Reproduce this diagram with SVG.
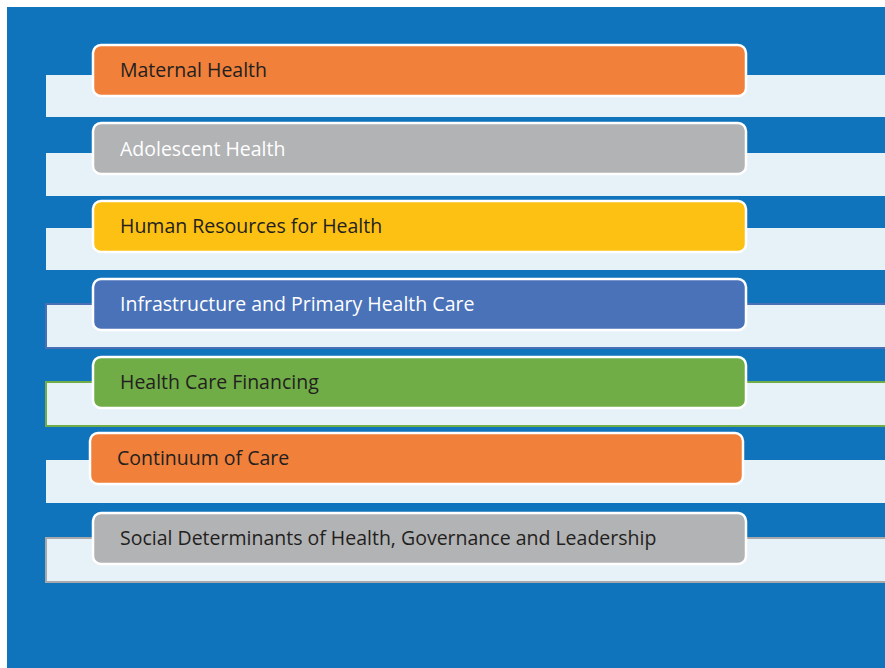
<svg xmlns="http://www.w3.org/2000/svg" width="885" height="668" viewBox="0 0 885 668">
<style>
.band{fill:#e7f1f8}
.bar{stroke:#ffffff;stroke-width:2.5}
.t{font-family:"Open Sans","Noto Sans",sans-serif;font-size:19.5px}
.dk{fill:#231f20}
.wt{fill:#ffffff}
</style>
<rect x="0" y="0" width="885" height="668" fill="#ffffff"/>
<rect x="7" y="7" width="878" height="661" fill="#0f74bc"/>
<g id="bands">
<rect class="band" x="46" y="75" width="839" height="42"/>
<rect class="band" x="46" y="153" width="839" height="43"/>
<rect class="band" x="46" y="228" width="839" height="42"/>
<rect class="band" x="46" y="304" width="840" height="44" stroke="#4a6fb5" stroke-width="2"/>
<rect class="band" x="46" y="382" width="840" height="44" stroke="#70ad47" stroke-width="2"/>
<rect class="band" x="46" y="460" width="839" height="43"/>
<rect class="band" x="46" y="538" width="840" height="44" stroke="#a7a9ac" stroke-width="2"/>
</g>
<g id="connectors"></g>
<g id="n1"><rect class="bar" x="93" y="45" width="653" height="51" rx="8" fill="#f0803a"/><text class="t dk" x="120" y="77">Maternal Health</text></g>
<g id="n2"><rect class="bar" x="93" y="123" width="653" height="51" rx="8" fill="#b2b3b5"/><text class="t wt" x="120" y="156">Adolescent Health</text></g>
<g id="n3"><rect class="bar" x="93" y="201" width="653" height="51" rx="8" fill="#fdc113"/><text class="t dk" x="120" y="233">Human Resources for Health</text></g>
<g id="n4"><rect class="bar" x="93" y="279" width="653" height="51" rx="8" fill="#4a72b8"/><text class="t wt" x="120" y="311">Infrastructure and Primary Health Care</text></g>
<g id="n5"><rect class="bar" x="93" y="357" width="653" height="51" rx="8" fill="#70ad47"/><text class="t dk" x="120" y="389">Health Care Financing</text></g>
<g id="n6"><rect class="bar" x="90" y="433" width="653" height="51" rx="8" fill="#f0803a"/><text class="t dk" x="117" y="465">Continuum of Care</text></g>
<g id="n7"><rect class="bar" x="93" y="513" width="653" height="51" rx="8" fill="#b2b3b5"/><text class="t dk" x="120" y="545">Social Determinants of Health, Governance and Leadership</text></g>
</svg>
